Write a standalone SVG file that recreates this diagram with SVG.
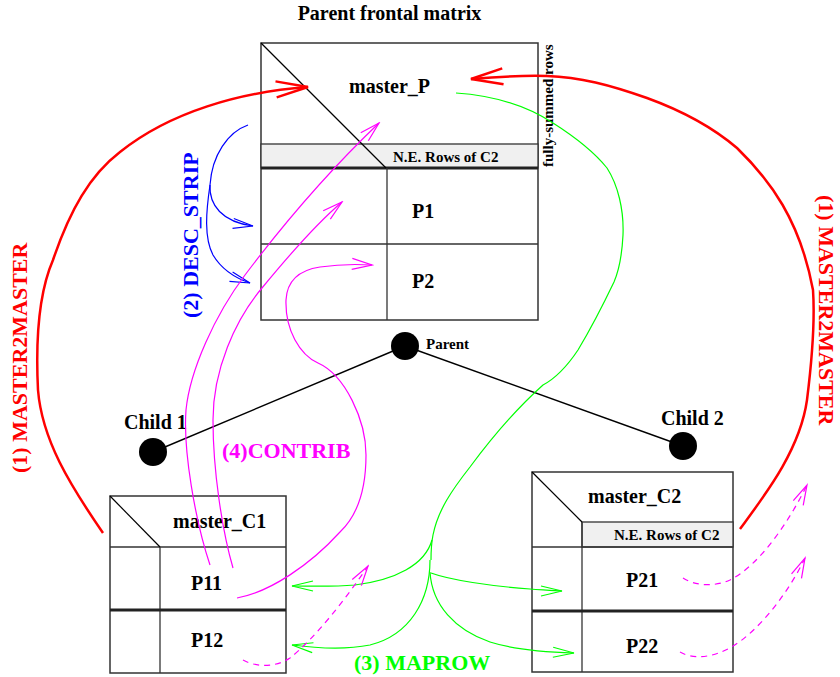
<svg xmlns="http://www.w3.org/2000/svg" width="840" height="677" viewBox="0 0 840 677">
<defs>
<style>
text{font-family:"Liberation Serif","Times New Roman",serif;font-weight:bold}
.t20{font-size:20px;fill:#000}
.t15{font-size:15px;fill:#000}
.lab{font-size:22px}
.box{fill:#fff;stroke:#333;stroke-width:1.5}
.ln{stroke:#333;stroke-width:1.3;fill:none}
.thick{stroke:#222;stroke-width:3}
.band{fill:#f0f0f0;stroke:#333;stroke-width:1.3}
.diag{stroke:#000;stroke-width:1.2}
.edge{stroke:#000;stroke-width:1.4}
.red{fill:none;stroke:#ff0000;stroke-width:2.5}
.blue{fill:none;stroke:#0000ff;stroke-width:1.2}
.green{fill:none;stroke:#00ff00;stroke-width:1.2}
.mag{fill:none;stroke:#ff00ff;stroke-width:1.2}
.dash{stroke-dasharray:6 5}
</style>
<marker id="mR" viewBox="-36 -12 40 24" refX="0" refY="0" markerWidth="40" markerHeight="24" markerUnits="userSpaceOnUse" orient="auto"><path d="M-32,-8 L0,0 L-32,8" fill="none" stroke="#ff0000" stroke-width="2.5"/></marker>
<marker id="mB" viewBox="-24 -8 26 16" refX="0" refY="0" markerWidth="26" markerHeight="16" markerUnits="userSpaceOnUse" orient="auto"><path d="M-20,-5 L0,0 L-20,5" fill="none" stroke="#0000ff" stroke-width="1.2"/></marker>
<marker id="mG" viewBox="-24 -8 26 16" refX="0" refY="0" markerWidth="26" markerHeight="16" markerUnits="userSpaceOnUse" orient="auto"><path d="M-21,-5 L0,0 L-21,5" fill="none" stroke="#00ff00" stroke-width="1.2"/></marker>
<marker id="mM" viewBox="-24 -8 26 16" refX="0" refY="0" markerWidth="26" markerHeight="16" markerUnits="userSpaceOnUse" orient="auto"><path d="M-20,-5.5 L0,0 L-20,5.5" fill="none" stroke="#ff00ff" stroke-width="1.2"/></marker>
</defs>
<rect width="840" height="677" fill="#fff"/>

<text class="t20" x="389.5" y="20" text-anchor="middle">Parent frontal matrix</text>

<g id="parent-matrix">
<rect class="box" x="261" y="43" width="277" height="277"/>
<rect class="band" x="261" y="144" width="277" height="24"/>
<line class="thick" x1="261" y1="168" x2="538" y2="168"/>
<line class="ln" x1="387" y1="168" x2="387" y2="320"/>
<line class="ln" x1="261" y1="244" x2="538" y2="244"/>
<line class="diag" x1="261" y1="43" x2="386" y2="168"/>
<text class="t20" x="349" y="93">master_P</text>
<text class="t15" x="393" y="162">N.E. Rows of C2</text>
<text class="t20" x="412" y="218">P1</text>
<text class="t20" x="412" y="288">P2</text>
<text class="t15" transform="translate(553,167) rotate(-90)">fully-summed rows</text>
</g>

<g id="child1-matrix">
<rect class="box" x="110" y="496" width="176" height="177"/>
<line class="ln" x1="110" y1="547" x2="286" y2="547"/>
<line class="ln" x1="160" y1="547" x2="160" y2="673"/>
<line class="thick" x1="110" y1="610" x2="286" y2="610"/>
<line class="diag" x1="110" y1="496" x2="160" y2="547"/>
<text class="t20" x="173" y="528">master_C1</text>
<text class="t20" x="191" y="590">P11</text>
<text class="t20" x="191" y="647">P12</text>
</g>

<g id="child2-matrix">
<rect class="box" x="532" y="472" width="201" height="200"/>
<rect class="band" x="582" y="522" width="151" height="25"/>
<line class="ln" x1="532" y1="547" x2="733" y2="547"/>
<line class="ln" x1="582" y1="522" x2="582" y2="672"/>
<line class="thick" x1="532" y1="611" x2="733" y2="611"/>
<line class="diag" x1="532" y1="472" x2="582" y2="522"/>
<text class="t20" x="588" y="503">master_C2</text>
<text class="t15" x="614" y="540">N.E. Rows of C2</text>
<text class="t20" x="626" y="587">P21</text>
<text class="t20" x="626" y="653">P22</text>
</g>

<g id="tree-edges">
<line class="edge" x1="405" y1="346" x2="153" y2="452"/>
<line class="edge" x1="405" y1="346" x2="683" y2="446"/>
</g>
<g id="node-parent">
<circle cx="405" cy="346" r="14" fill="#000"/>
<text class="t15" x="426" y="349">Parent</text>
</g>
<g id="node-child1">
<circle cx="153" cy="452" r="14" fill="#000"/>
<text class="t20" x="124" y="429">Child 1</text>
</g>
<g id="node-child2">
<circle cx="683" cy="446" r="14" fill="#000"/>
<text class="t20" x="661" y="425">Child 2</text>
</g>

<g id="connectors">
<!-- (1) MASTER2MASTER -->
<path class="red" marker-end="url(#mR)" d="M103,533 C70,485 42,440 38,390 C35,330 40,290 53,260 C70,210 90,175 120,152 C170,112 240,92 308,87"/>
<path class="red" marker-end="url(#mR)" d="M740,529 C765,495 800,450 807,400 C812,360 815,320 813,290 C800,220 770,180 737,148 C710,125 680,110 647,98 C610,85 580,77 547,76 C520,75 495,77 471,79"/>
<!-- (2) DESC_STRIP -->
<path class="blue" marker-end="url(#mB)" d="M248,125 C228,132 212,155 210,185 C209,205 222,222 253,226"/>
<path class="blue" marker-end="url(#mB)" d="M210,185 C206,212 204,238 213,255 C222,270 235,278 250,283"/>
<!-- (3) MAPROW -->
<path class="green" d="M456,93 C500,96 530,108 553,123 C575,137 595,153 607,168 C618,185 624,210 623,235 C622,255 620,268 614,282 C603,305 590,330 578,350 C568,365 558,377 543,385 C515,410 490,440 470,467 C452,490 438,510 433,535 C431,545 431,555 431,560"/>
<path class="green" marker-end="url(#mG)" d="M432,540 C425,565 395,580 355,585 C330,587 310,586 292,586"/>
<path class="green" marker-end="url(#mG)" d="M430,560 C430,600 410,635 370,645 C345,650 315,648 292,645"/>
<path class="green" marker-end="url(#mG)" d="M431,573 C450,580 490,586 530,589 C545,590 555,591 562,591"/>
<path class="green" marker-end="url(#mG)" d="M430,572 C432,605 455,630 490,642 C515,650 545,652 574,653"/>
<!-- (4) CONTRIB -->
<path class="mag" marker-end="url(#mM)" d="M210,565 C195,520 183,450 186,410 C190,370 215,315 245,275 C285,222 335,165 379,123"/>
<path class="mag" marker-end="url(#mM)" d="M233,568 C222,530 213,470 213,420 C213,370 235,320 262,288 C285,260 315,225 342,202"/>
<path class="mag" marker-end="url(#mM)" d="M237,598 C270,592 310,565 340,532 C358,515 366,490 366,455 C366,420 345,375 318,363 C300,355 285,330 286,300 C287,280 300,270 320,267 C340,264 355,264 372,265"/>
<path class="mag dash" marker-end="url(#mM)" d="M243,660 C255,667 275,668 290,658 C315,638 345,600 368,566"/>
<path class="mag dash" marker-end="url(#mM)" d="M683,578 C695,586 715,587 730,580 C760,565 790,520 807,485"/>
<path class="mag dash" marker-end="url(#mM)" d="M680,652 C692,659 712,659 733,646 C760,630 790,590 805,558"/>
</g>

<g id="labels">
<text class="lab" fill="#ff0000" transform="translate(27,473) rotate(-90)">(1) MASTER2MASTER</text>
<text class="lab" fill="#ff0000" transform="translate(819,195) rotate(90)">(1) MASTER2MASTER</text>
<text class="lab" fill="#0000ff" transform="translate(198,318) rotate(-90)">(2) DESC_STRIP</text>
<text class="lab" fill="#ff00ff" x="222" y="458">(4)CONTRIB</text>
<text class="lab" fill="#00ff00" x="354" y="670">(3) MAPROW</text>
</g>
</svg>
